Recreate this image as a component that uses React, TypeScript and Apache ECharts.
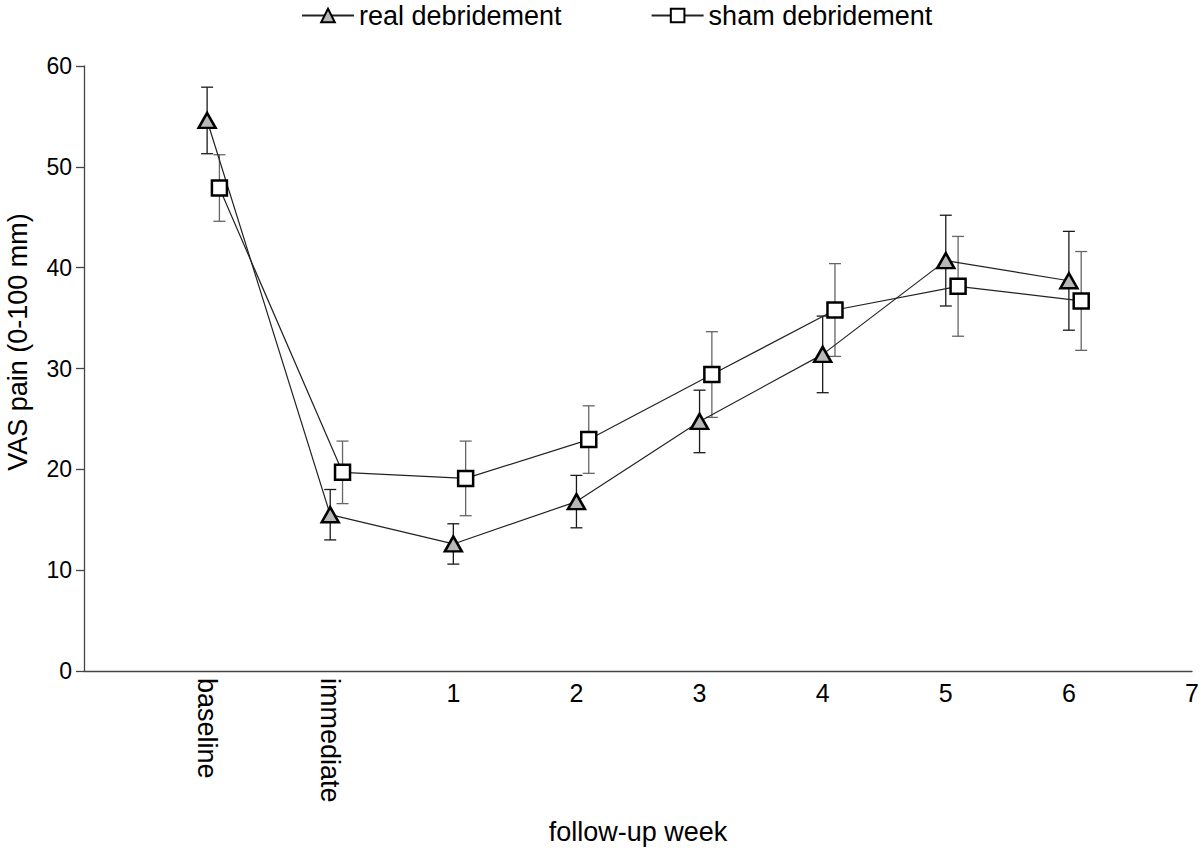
import React, { useEffect, useRef } from "react";
import * as echarts from "echarts";

// x positions: 1 = baseline, 2 = immediate, 3..9 = follow-up week 1..7
const xTickLabels = ["", "baseline", "immediate", "1", "2", "3", "4", "5", "6", "7"];
const timePoints = [1, 2, 3, 4, 5, 6, 7, 8];
const shamOffset = 0.1;

const realMean = [54.6, 15.5, 12.6, 16.8, 24.75, 31.4, 40.7, 38.7];
const realErr = [3.3, 2.5, 2.0, 2.6, 3.1, 3.8, 4.5, 4.9];
const shamMean = [47.9, 19.7, 19.1, 22.95, 29.4, 35.8, 38.15, 36.7];
const shamErr = [3.3, 3.1, 3.7, 3.35, 4.25, 4.6, 4.95, 4.9];

const yTicks = { min: 0, max: 60, interval: 10 };
const FONT = "'Liberation Sans', Arial, Helvetica, sans-serif";

function errorBarSeries(name: string, xs: number[], mean: number[], err: number[], color: string) {
  const data = xs.map((x, i) => [x, mean[i] - err[i], mean[i] + err[i]]);
  return {
    type: "custom",
    name: name + "-err",
    xAxisIndex: 0,
    yAxisIndex: 0,
    z: 1,
    silent: true,
    encode: { x: 0, y: [1, 2] },
    data,
    renderItem: (params: any, api: any) => {
      const x = api.value(0);
      const lo = api.coord([x, api.value(1)]);
      const hi = api.coord([x, api.value(2)]);
      const hw = 6;
      const style = { stroke: color, lineWidth: 1.3 };
      return {
        type: "group",
        children: [
          { type: "line", shape: { x1: lo[0], y1: lo[1], x2: hi[0], y2: hi[1] }, style },
          { type: "line", shape: { x1: lo[0] - hw, y1: lo[1], x2: lo[0] + hw, y2: lo[1] }, style },
          { type: "line", shape: { x1: hi[0] - hw, y1: hi[1], x2: hi[0] + hw, y2: hi[1] }, style },
        ],
      };
    },
  };
}

export default function App() {
  const ref = useRef<HTMLDivElement>(null);
  useEffect(() => {
    document.body.style.margin = "0";
    const chart = echarts.init(ref.current!, null, { renderer: "svg" });
    const realX = timePoints;
    const shamX = timePoints.map((t) => t + shamOffset);
    chart.setOption({
      animation: false,
      backgroundColor: "#fff",
      textStyle: { fontFamily: FONT },
      legend: {
        left: 296,
        top: -3,
        itemWidth: 52,
        itemHeight: 17,
        itemGap: 89,
        textStyle: { fontSize: 27, color: "#000", fontFamily: FONT },
        data: ["real debridement", "sham debridement"],
      },
      grid: { left: 84, right: 8, top: 66, bottom: 177, containLabel: false, outerBoundsMode: "none" },
      xAxis: [
        {
          type: "value",
          min: 0,
          max: 9,
          interval: 1,
          name: "follow-up week",
          nameLocation: "middle",
          nameGap: 147,
          nameTextStyle: { fontSize: 27, color: "#000", fontFamily: FONT },
          axisLine: { show: true, lineStyle: { color: "#444", width: 1.3 } },
          axisTick: { show: false },
          splitLine: { show: false },
          axisLabel: {
            fontSize: 25,
            color: "#000",
            margin: 9,
            showMaxLabel: true,
            showMinLabel: true,
            formatter: (v: number) => (v >= 3 ? xTickLabels[Math.round(v)] : ""),
          },
        },
        {
          type: "value",
          min: 0,
          max: 9,
          interval: 1,
          position: "bottom",
          axisLine: { show: false },
          axisTick: { show: false },
          splitLine: { show: false },
          axisLabel: {
            fontSize: 27,
            color: "#000",
            margin: 7,
            rotate: -90,
            formatter: (v: number) => (v === 1 || v === 2 ? xTickLabels[v] : ""),
          },
        },
      ],
      yAxis: {
        type: "value",
        min: yTicks.min,
        max: yTicks.max,
        interval: yTicks.interval,
        axisLine: { show: true, lineStyle: { color: "#444", width: 1.3 } },
        axisTick: { show: true, length: 8, lineStyle: { color: "#444", width: 1.3 } },
        splitLine: { show: false },
        axisLabel: { fontSize: 23, color: "#000", margin: 12 },
      },
      graphic: [
        {
          type: "text",
          x: 18,
          y: 342,
          rotation: Math.PI / 2,
          style: {
            text: "VAS pain (0-100 mm)",
            font: `27px ${FONT}`,
            fill: "#000",
            textAlign: "center",
            textVerticalAlign: "middle",
          },
        },
      ],
      series: [
        errorBarSeries("real", realX, realMean, realErr, "#1a1a1a"),
        errorBarSeries("sham", shamX, shamMean, shamErr, "#666"),
        {
          type: "line",
          name: "real debridement",
          z: 3,
          data: realX.map((x, i) => [x, realMean[i]]),
          symbol: "triangle",
          symbolSize: [17, 15],
          itemStyle: { color: "#b8b8b8", borderColor: "#000", borderWidth: 2.5 },
          lineStyle: { color: "#222", width: 1.2 },
        },
        {
          type: "line",
          name: "sham debridement",
          z: 3,
          data: shamX.map((x, i) => [x, shamMean[i]]),
          symbol: "rect",
          symbolSize: 15,
          itemStyle: { color: "#fff", borderColor: "#000", borderWidth: 2.5 },
          lineStyle: { color: "#222", width: 1.2 },
        },
      ],
    });
    return () => chart.dispose();
  }, []);
  return <div ref={ref} style={{ width: 1200, height: 848 }} />;
}
